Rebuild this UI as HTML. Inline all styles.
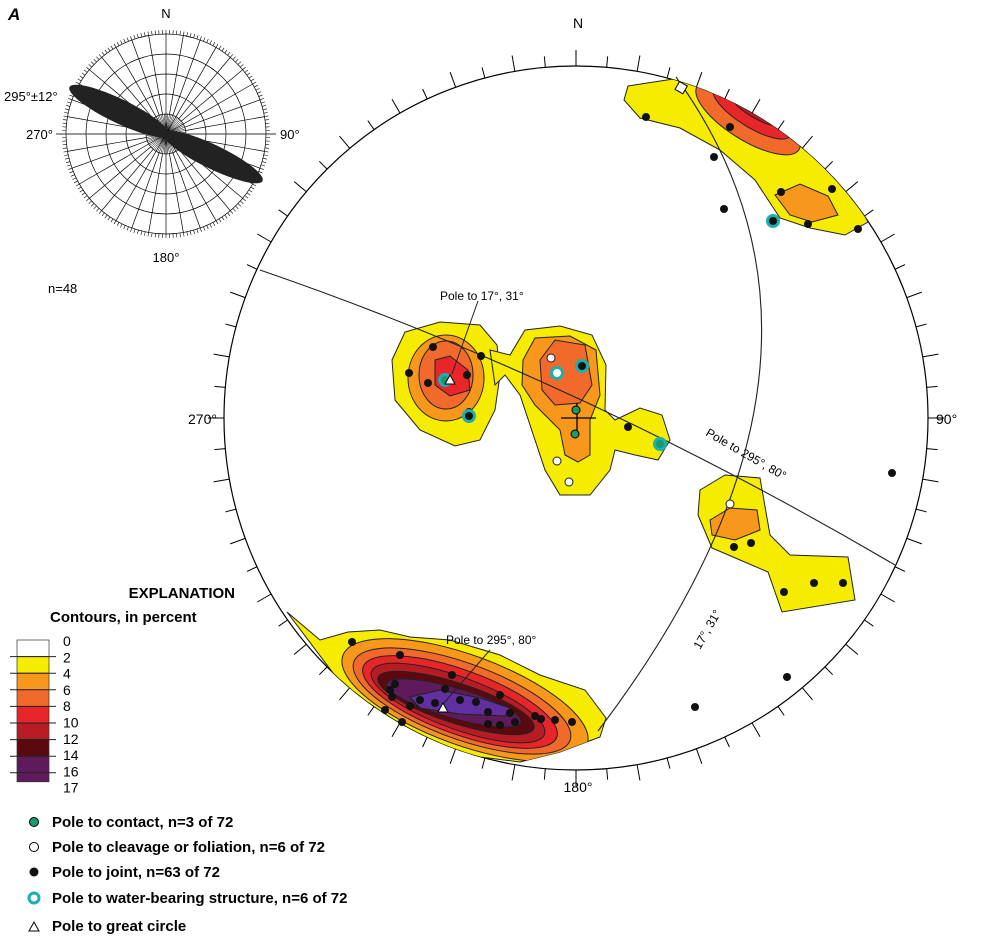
<!DOCTYPE html>
<html><head><meta charset="utf-8"><style>
body{margin:0;background:#fff;}
svg{display:block;font-family:"Liberation Sans",sans-serif;}
</style></head><body>
<svg id="s" width="1000" height="940" viewBox="0 0 1000 940" xmlns="http://www.w3.org/2000/svg">
<defs>
<clipPath id="cc"><circle cx="576" cy="418" r="352"/></clipPath>
<clipPath id="cb"><path d="M287,612 L320,640 L348,632 L380,630 L410,637 L450,640 L500,655 L540,675 L585,690 L606,718 L600,737 L560,752 L520,762 L480,757 L420,742 L370,722 Z"/></clipPath>
</defs>
<text x="8" y="20" font-size="17" font-weight="bold" font-style="italic">A</text>
<g id="rose" stroke="#000" stroke-width="0.7" fill="none"></g>
<line x1="56" y1="134" x2="276" y2="134" stroke="#333" stroke-width="1"/>
<ellipse cx="119" cy="111" rx="55" ry="12" transform="rotate(25.8 119 111)" fill="#222"/>
<ellipse cx="213" cy="157" rx="55" ry="12" transform="rotate(25.8 213 157)" fill="#222"/>
<text x="166" y="18" font-size="13" text-anchor="middle">N</text>
<text x="4" y="101" font-size="13">295°±12°</text>
<text x="26" y="139" font-size="13">270°</text>
<text x="280" y="139" font-size="13">90°</text>
<text x="166" y="262" font-size="13" text-anchor="middle">180°</text>
<text x="48" y="293" font-size="13">n=48</text>

<g id="ticks" stroke="#000" stroke-width="1"></g>
<circle cx="576" cy="418" r="352" fill="#fff" stroke="#000" stroke-width="1.2"/>
<g clip-path="url(#cc)" stroke="#222" stroke-width="1">
<path d="M628,86 L680,78 L730,88 L790,120 L840,170 L868,222 L845,235 L810,228 L780,218 L755,180 L720,150 L680,128 L640,118 L624,100 Z" fill="#f5ec00"/>
<ellipse cx="748" cy="118" rx="60" ry="22" transform="rotate(32 748 118)" fill="#f26a2b"/>
<ellipse cx="752" cy="112" rx="45" ry="15" transform="rotate(32 752 112)" fill="#e8262a"/>
<ellipse cx="755" cy="108" rx="30" ry="9" transform="rotate(32 755 108)" fill="#b71c25"/>
<path d="M775,195 L800,184 L828,196 L838,215 L812,222 L790,215 Z" fill="#f7981d"/>
<path d="M700,490 L725,475 L760,478 L770,535 L790,555 L848,557 L855,600 L782,612 L768,572 L740,560 L712,548 L698,515 Z" fill="#f5ec00"/>
<path d="M710,520 L730,508 L757,510 L760,530 L735,540 L712,535 Z" fill="#f7981d"/>
<path d="M392,360 L405,332 L440,322 L480,325 L497,345 L500,375 L495,410 L480,440 L455,446 L420,430 L395,400 Z" fill="#f5ec00"/>
<ellipse cx="446" cy="378" rx="38" ry="43" fill="#f7981d"/>
<ellipse cx="446" cy="375" rx="27" ry="34" fill="#f26a2b"/>
<path d="M435,360 L450,356 L468,370 L470,390 L450,396 L435,385 Z" fill="#e8262a"/>
<path d="M490,350 L510,355 L525,330 L560,326 L592,335 L606,365 L605,410 L615,420 L640,408 L662,415 L670,440 L658,460 L635,455 L615,450 L610,470 L590,495 L560,495 L545,470 L535,440 L520,395 L505,375 L495,385 Z" fill="#f5ec00"/>
<path d="M523,360 L535,338 L570,336 L596,350 L600,395 L590,420 L590,455 L578,462 L565,455 L560,430 L535,405 L522,385 Z" fill="#f7981d"/>
<path d="M540,360 L555,340 L585,345 L592,385 L580,403 L555,405 L542,390 Z" fill="#f26a2b"/>
<path d="M287,612 L320,640 L348,632 L380,630 L410,637 L450,640 L500,655 L540,675 L585,690 L606,718 L600,737 L560,752 L520,762 L480,757 L420,742 L370,722 Z" fill="#f5ec00"/>
<g clip-path="url(#cb)">
<ellipse cx="465" cy="700" rx="130" ry="45" transform="rotate(20 465 700)" fill="#f7981d"/>
<ellipse cx="462" cy="701" rx="115" ry="38" transform="rotate(20 462 701)" fill="#f26a2b"/>
<ellipse cx="460" cy="702" rx="103" ry="32" transform="rotate(20 460 702)" fill="#e8262a"/>
<ellipse cx="458" cy="703" rx="92" ry="26" transform="rotate(20 458 703)" fill="#b71c25"/>
<ellipse cx="456" cy="703" rx="82" ry="20" transform="rotate(18 456 703)" fill="#5a0a0e"/>
<ellipse cx="454" cy="703" rx="70" ry="15" transform="rotate(16 454 703)" fill="#5e1a5a"/>
<path d="M410,697 L440,690 L480,698 L510,708 L505,716 L460,714 L420,708 Z" fill="#6030a0"/>
</g>
</g>
<path d="M260,270 Q580,380 895,565" fill="none" stroke="#222" stroke-width="1.1"/>
<path d="M676,77 Q880,360 598,731" fill="none" stroke="#222" stroke-width="1.1"/>
<path d="M561,418 L596,418 M577,403 L577,436" stroke="#000" stroke-width="1.3"/>
<line x1="478" y1="301" x2="452" y2="374" stroke="#222"/>
<line x1="490" y1="650" x2="444" y2="703" stroke="#222"/>
<g id="pts"></g>
<text x="578" y="28" font-size="14" text-anchor="middle">N</text>
<text x="188" y="424" font-size="14">270°</text>
<text x="936" y="424" font-size="14">90°</text>
<text x="578" y="792" font-size="14" text-anchor="middle">180°</text>
<text x="440" y="300" font-size="12">Pole to 17°, 31°</text>
<text x="446" y="644" font-size="12">Pole to 295°, 80°</text>
<text x="705" y="435" font-size="12" transform="rotate(30 705 435)">Pole to 295°, 80°</text>
<text x="700" y="650" font-size="12" transform="rotate(-60 700 650)">17°, 31°</text>
<text x="235" y="598" font-size="15" font-weight="bold" text-anchor="end">EXPLANATION</text>
<text x="50" y="622" font-size="15" font-weight="bold">Contours, in percent</text>
<g id="leg"></g>
<g font-size="15" font-weight="bold">
<circle cx="34" cy="822" r="4.5" fill="#1a9a6a" stroke="#000"/><text x="52" y="827">Pole to contact, n=3 of 72</text>
<circle cx="34" cy="847" r="4.5" fill="#fff" stroke="#000"/><text x="52" y="852">Pole to cleavage or foliation, n=6 of 72</text>
<circle cx="34" cy="872" r="4.5" fill="#111"/><text x="52" y="877">Pole to joint, n=63 of 72</text>
<circle cx="34" cy="898" r="5" fill="#fff" stroke="#19b0b0" stroke-width="3"/><text x="52" y="903">Pole to water-bearing structure, n=6 of 72</text>
<path d="M29,931 L34,922 L39,931 Z" fill="#fff" stroke="#000"/><text x="52" y="931">Pole to great circle</text>
</g>
</svg>
<script>
const NS="http://www.w3.org/2000/svg";
function el(p,t,a){const e=document.createElementNS(NS,t);for(const k in a)e.setAttribute(k,a[k]);p.appendChild(e);return e;}
const T=document.getElementById('ticks');
for(let a=0;a<360;a+=5){const r=Math.PI*a/180;const L=(a%10==0)?16:11;
el(T,'line',{x1:576+352*Math.sin(r),y1:418-352*Math.cos(r),x2:576+(352+L)*Math.sin(r),y2:418-(352+L)*Math.cos(r)});}
const R=document.getElementById('rose');
const cx=166,cy=134,rr=100;
for(let i=1;i<=5;i++)el(R,'circle',{cx:cx,cy:cy,r:i*20});
for(let a=0;a<360;a+=10){const r=Math.PI*a/180;el(R,'line',{x1:cx+(a%30==0?0:20)*Math.sin(r),y1:cy-(a%30==0?0:20)*Math.cos(r),x2:cx+rr*Math.sin(r),y2:cy-rr*Math.cos(r)});}
for(let a=0;a<360;a+=5){const r=Math.PI*a/180;el(R,'line',{x1:cx,y1:cy,x2:cx+20*Math.sin(r),y2:cy-20*Math.cos(r),'stroke-width':0.5});}
for(let a=0;a<360;a+=2){const r=Math.PI*a/180;el(R,'line',{x1:cx+rr*Math.sin(r),y1:cy-rr*Math.cos(r),x2:cx+(rr+4)*Math.sin(r),y2:cy-(rr+4)*Math.cos(r),'stroke-width':0.6});}
const P=document.getElementById('pts');
const J=[[646,117],[714,157],[730,127],[724,209],[781,192],[808,224],[832,189],[858,229],[433,347],[481,356],[409,373],[428,383],[467,375],[469,412],[628,427],[734,547],[751,543],[784,592],[814,583],[843,583],[892,473],[787,677],[695,707],[352,642],[400,655],[452,675],[445,689],[390,690],[392,697],[410,706],[420,700],[435,703],[460,700],[476,702],[488,712],[500,695],[510,713],[515,722],[535,716],[541,719],[555,720],[572,722],[402,722],[385,710],[500,725],[488,724],[395,684]];
J.forEach(p=>el(P,'circle',{cx:p[0],cy:p[1],r:4,fill:'#111'}));
[[551,358],[557,461],[569,482],[730,504]].forEach(p=>el(P,'circle',{cx:p[0],cy:p[1],r:4,fill:'#fff',stroke:'#222'}));
[[576,410],[575,434]].forEach(p=>el(P,'circle',{cx:p[0],cy:p[1],r:4,fill:'#1a9a6a',stroke:'#000'}));
[[445,380,'#1a9a6a'],[469,416,'#111'],[557,373,'#fff'],[582,366,'#111'],[660,444,'#1a9a6a'],[773,221,'#111']].forEach(p=>{el(P,'circle',{cx:p[0],cy:p[1],r:5.5,fill:p[2],stroke:'#19b0b0','stroke-width':3});});
[[450,380],[443,708]].forEach(p=>el(P,'path',{d:`M${p[0]-5},${p[1]+4} L${p[0]},${p[1]-5} L${p[0]+5},${p[1]+4} Z`,fill:'#fff',stroke:'#000'}));
el(P,'rect',{x:677,y:83,width:9,height:9,fill:'#fff',stroke:'#000',transform:'rotate(30 681 87)'});
const G=document.getElementById('leg');
const cols=['#ffffff','#f5ec00','#f7981d','#f26a2b','#e8262a','#b71c25','#5a0a0e','#5e1a5a','#5e1a5a'];
const labs=['0','2','4','6','8','10','12','14','16','17'];
for(let i=0;i<8;i++)el(G,'rect',{x:17,y:640+i*16.6,width:32,height:16.6,fill:cols[i],stroke:'#333','stroke-width':0.7});
el(G,'rect',{x:17,y:640+8*16.6,width:32,height:9,fill:'#5e1a5a',stroke:'#333','stroke-width':0.7});
for(let i=1;i<9;i++)el(G,'line',{x1:10,y1:640+i*16.6,x2:56,y2:640+i*16.6,stroke:'#222'});
labs.forEach((l,i)=>{const t=el(G,'text',{x:63,y:646+i*16.3,'font-size':14});t.textContent=l;});
</script>
</body></html>
